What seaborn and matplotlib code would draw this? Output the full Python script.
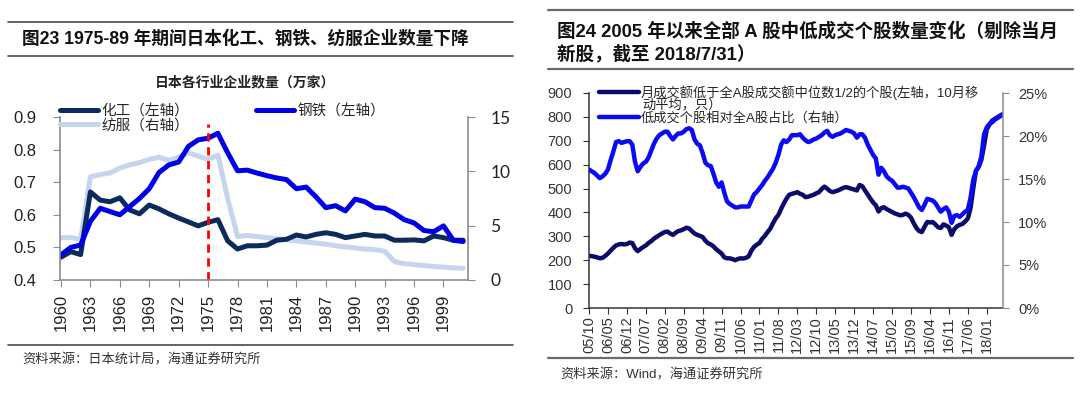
import numpy as np
import pandas as pd
import matplotlib
matplotlib.use("Agg")
import matplotlib.pyplot as plt
from matplotlib.lines import Line2D
import seaborn as sns

# ---- left chart: Japan, number of firms by industry (10k) ----
years = list(range(1960, 2002))
chem = [0.470, 0.487, 0.478, 0.670, 0.645, 0.640, 0.652, 0.615, 0.603, 0.630,
        0.618, 0.603, 0.590, 0.578, 0.566, 0.577, 0.585, 0.520, 0.495, 0.505,
        0.505, 0.507, 0.522, 0.525, 0.538, 0.532, 0.540, 0.545, 0.540, 0.530,
        0.535, 0.540, 0.535, 0.535, 0.522, 0.522, 0.523, 0.520, 0.535, 0.530,
        0.522, 0.522]
steel = [0.477, 0.500, 0.507, 0.580, 0.620, 0.610, 0.600, 0.625, 0.650, 0.680,
         0.730, 0.753, 0.762, 0.810, 0.830, 0.835, 0.850, 0.790, 0.735, 0.737,
         0.728, 0.720, 0.713, 0.708, 0.680, 0.685, 0.655, 0.622, 0.628, 0.612,
         0.648, 0.640, 0.622, 0.620, 0.605, 0.585, 0.575, 0.552, 0.548, 0.566,
         0.522, 0.518]
textile = [3.9, 3.9, 3.75, 9.5, 9.7, 9.85, 10.3, 10.6, 10.8, 11.1,
           11.3, 11.0, 11.3, 11.7, 11.4, 11.1, 11.5, 7.5, 4.0, 4.1,
           4.0, 3.9, 3.8, 3.7, 3.6, 3.5, 3.4, 3.3, 3.15, 3.05,
           2.95, 2.85, 2.8, 2.65, 1.7, 1.5, 1.42, 1.33, 1.25, 1.18,
           1.12, 1.08]
year_ticks = list(range(1960, 2000, 3))

# ---- right chart: low-turnover A shares, 2005/10 - 2018/07 monthly ----
low_count = [218, 217, 215, 212, 208, 210, 218, 228, 240, 252,
             262, 266, 268, 266, 268, 274, 272, 250, 238, 247,
             255, 262, 272, 280, 290, 298, 305, 312, 318, 320,
             312, 306, 315, 322, 325, 330, 336, 333, 322, 312,
             306, 302, 297, 282, 271, 266, 258, 246, 237, 228,
             212, 208, 208, 205, 200, 205, 208, 207, 210, 216,
             240, 256, 265, 272, 290, 302, 318, 332, 355, 375,
             390, 415, 438, 458, 474, 478, 481, 485, 478, 474,
             464, 466, 470, 474, 480, 485, 498, 508, 500, 490,
             485, 488, 492, 497, 503, 506, 503, 499, 496, 492,
             515, 510, 492, 475, 458, 442, 430, 404, 418, 422,
             414, 408, 402, 396, 392, 388, 390, 395, 390, 378,
             355, 335, 322, 318, 340, 360, 358, 360, 350, 338,
             335, 350, 345, 338, 306, 330, 342, 348, 352, 362,
             375, 418, 500, 575, 590, 620, 680, 748, 768, 785,
             792, 799, 806, 812]
low_share = [16.1, 15.9, 15.7, 15.4, 15.1, 15.3, 15.6, 16.1, 17.2, 18.2,
             19.3, 19.4, 19.2, 19.3, 19.4, 19.4, 19.0, 17.0, 15.9, 16.4,
             16.8, 17.0, 17.5, 18.3, 19.1, 19.7, 20.1, 20.3, 20.5, 20.5,
             20.0, 19.6, 20.0, 20.3, 20.3, 20.5, 20.8, 20.9, 20.7, 19.6,
             19.1, 18.9, 18.0, 16.9, 16.6, 16.5, 15.6, 14.6, 14.1, 14.6,
             13.4, 12.4, 12.1, 11.9, 11.7, 11.7, 11.8, 11.8, 11.8, 11.8,
             12.5, 13.2, 13.5, 13.9, 14.3, 14.8, 15.2, 15.7, 16.2, 16.9,
             17.8, 19.0, 19.5, 19.3, 19.6, 20.1, 20.1, 20.1, 20.2, 19.8,
             19.5, 19.3, 19.4, 19.6, 19.7, 19.9, 20.1, 20.4, 20.6, 20.1,
             19.9, 20.1, 20.2, 20.3, 20.5, 20.7, 20.6, 20.5, 20.3, 19.8,
             20.2, 20.2, 19.8, 19.0, 18.4, 17.8, 17.4, 15.5, 16.3, 15.9,
             15.3, 15.0, 14.8, 14.4, 14.0, 14.0, 14.1, 14.0, 13.9, 13.4,
             12.9, 12.3, 11.7, 11.4, 12.0, 12.7, 12.6, 12.5, 12.2, 11.7,
             11.2, 11.5, 11.7, 11.2, 9.9, 10.7, 10.8, 10.6, 10.9, 11.2,
             11.4, 12.8, 14.9, 15.9, 16.5, 17.6, 20.2, 21.0, 21.4, 21.6,
             21.9, 22.1, 22.3, 22.5]
month_labels = ["05/10", "06/05", "06/12", "07/07", "08/02", "08/09", "09/04",
                "09/11", "10/06", "11/01", "11/08", "12/03", "12/10", "13/05",
                "13/12", "14/07", "15/02", "15/09", "16/04", "16/11", "17/06",
                "18/01"]

sns.set_style("ticks")
plt.rcParams['font.family'] = ['Liberation Sans', 'Noto Sans CJK SC']

W, H = 1080, 394
fig = plt.figure(figsize=(W / 100, H / 100), dpi=100)


def fx(px):
    return px / W


def fy(py):
    return 1 - py / H


def hline(x0, x1, y, color, lw):
    fig.add_artist(Line2D([fx(x0), fx(x1)], [fy(y), fy(y)], color=color, lw=lw))


# ================= left panel =================
df_jp = pd.DataFrame({"year": years, "chem": chem, "steel": steel, "textile": textile})

ax1 = fig.add_axes([fx(60), fy(280), fx(408), 163 / H])
ax1r = ax1.twinx()
ax1.set_zorder(2)
ax1.patch.set_visible(False)

sns.lineplot(data=df_jp, x="year", y="textile", ax=ax1r, color="#c5d5ee", lw=3.6)
sns.lineplot(data=df_jp, x="year", y="chem", ax=ax1, color="#0c2a5c", lw=3.6)
sns.lineplot(data=df_jp, x="year", y="steel", ax=ax1, color="#0000e6", lw=3.6)
ax1.axvline(1975, ymin=0, ymax=0.96, color="#ff0000", lw=2, ls=(0, (3, 2)))

ax1.set_xlim(1959.9, 2001.5)
ax1.set_ylim(0.4, 0.9)
ax1r.set_ylim(0, 15)
ax1.set_xticks(year_ticks)
ax1.set_xticklabels([str(y) for y in year_ticks], rotation=90)
ax1.set_yticks([0.4, 0.5, 0.6, 0.7, 0.8, 0.9])
ax1.set_yticklabels(["0.4", "0.5", "0.6", "0.7", "0.8", "0.9"])
ax1r.set_yticks([0, 5, 10, 15])
ax1.set_xlabel("")
ax1.set_ylabel("")
ax1r.set_ylabel("")

for a in (ax1, ax1r):
    for s in a.spines.values():
        s.set_color("#8c8c8c")
        s.set_linewidth(1.2)
    a.spines["top"].set_visible(False)
ax1.spines["right"].set_visible(False)
ax1r.spines["left"].set_visible(False)
ax1r.spines["bottom"].set_visible(False)

ax1.tick_params(axis="y", length=5, color="#8c8c8c", labelsize=12, pad=12, labelcolor="#222222")
ax1.tick_params(axis="x", length=5, color="#8c8c8c", labelsize=12, pad=5, labelcolor="#222222")
ax1r.tick_params(axis="y", length=5, color="#8c8c8c", labelsize=12.5, pad=11, labelcolor="#222222")
for t in ax1r.get_yticklabels():
    t.set_family("Lato")

h = ax1.get_lines()
hr = ax1r.get_lines()
ax1.legend([h[0], hr[0], h[1]], ["化工（左轴）", "纺服（右轴）", "钢铁（左轴）"],
           ncol=2, loc="upper left", bbox_to_anchor=(fx(60), fy(104)),
           bbox_transform=fig.transFigure, frameon=False, fontsize=10.5,
           handlelength=2.6, handletextpad=0.25, columnspacing=4.6,
           labelspacing=0.0, borderpad=0, borderaxespad=0)
if ax1r.get_legend() is not None:
    ax1r.get_legend().remove()

fig.text(fx(245), fy(82), "日本各行业企业数量（万家）", ha="center", va="center",
         fontsize=10, fontweight="bold", color="#222222")
fig.text(fx(22), fy(39), "图23 1975-89 年期间日本化工、钢铁、纺服企业数量下降",
         ha="left", va="center", fontsize=12.7, fontweight="bold", color="#111111")
fig.text(fx(22), fy(360), "资料来源：日本统计局，海通证券研究所", ha="left", va="center",
         fontsize=9.5, color="#333333")
hline(8, 513, 22, "#4a4a4a", 1.2)
hline(8, 513, 56, "#4a4a4a", 1.2)
hline(8, 513, 345, "#4a4a4a", 1.2)

# ================= right panel =================
month_idx = np.arange(len(low_count))
df_a = pd.DataFrame({"m": month_idx, "count": low_count, "share": low_share})

ax2 = fig.add_axes([fx(589), fy(308), fx(414), 215 / H])
ax2r = ax2.twinx()
sns.lineplot(data=df_a, x="m", y="count", ax=ax2, color="#0b0b6e", lw=3.2)
sns.lineplot(data=df_a, x="m", y="share", ax=ax2r, color="#0a0af5", lw=3.2)

ax2.set_xlim(0, 153)
ax2.set_ylim(0, 900)
ax2r.set_ylim(0, 25)
ax2.set_xticks(np.arange(0, 7 * len(month_labels), 7))
ax2.set_xticklabels(month_labels, rotation=90)
ax2.set_yticks(range(0, 901, 100))
ax2r.set_yticks([0, 5, 10, 15, 20, 25])
ax2r.set_yticklabels(["0%", "5%", "10%", "15%", "20%", "25%"])
ax2.set_xlabel("")
ax2.set_ylabel("")
ax2r.set_ylabel("")

for a in (ax2, ax2r):
    a.spines["top"].set_visible(False)
    for s in a.spines.values():
        s.set_linewidth(1.1)
ax2.spines["left"].set_color("#333333")
ax2.spines["bottom"].set_color("#333333")
ax2.spines["right"].set_visible(False)
ax2r.spines["left"].set_visible(False)
ax2r.spines["bottom"].set_visible(False)
ax2r.spines["right"].set_color("#8c8c8c")

ax2.tick_params(axis="y", length=4, color="#333333", labelsize=10.5, pad=8, labelcolor="#333333")
ax2.tick_params(axis="x", length=4, color="#333333", labelsize=10.5, pad=2, labelcolor="#333333")
ax2r.tick_params(axis="y", length=4, color="#8c8c8c", labelsize=10.5, pad=7, labelcolor="#333333")

h2 = ax2.get_lines() + ax2r.get_lines()
ax2.legend([h2[0], h2[1]], ["月成交额低于全A股成交额中位数1/2的个股(左轴，10月移",
                            "低成交个股相对全A股占比（右轴）"],
           loc="upper left", bbox_to_anchor=(fx(599), fy(85)),
           bbox_transform=fig.transFigure, frameon=False, fontsize=9.5,
           handlelength=3.0, handletextpad=0.15, labelspacing=0.95,
           borderpad=0, borderaxespad=0)
if ax2r.get_legend() is not None:
    ax2r.get_legend().remove()
fig.text(fx(642), fy(105.5), "动平均，只）", ha="left", va="center", fontsize=9.5, color="#222222")

fig.text(fx(557), fy(31), "图24 2005 年以来全部 A 股中低成交个股数量变化（剔除当月",
         ha="left", va="center", fontsize=13.3, fontweight="bold", color="#111111")
fig.text(fx(557), fy(54), "新股，截至 2018/7/31）",
         ha="left", va="center", fontsize=13.3, fontweight="bold", color="#111111")
fig.text(fx(560), fy(375), "资料来源：Wind，海通证券研究所", ha="left", va="center",
         fontsize=9.5, color="#333333")
hline(548, 1073, 10, "#6a6a6a", 1.6)
hline(548, 1073, 69, "#6a6a6a", 1.6)
hline(548, 1073, 358, "#6a6a6a", 1.6)

fig.savefig("out.png", dpi=100)
